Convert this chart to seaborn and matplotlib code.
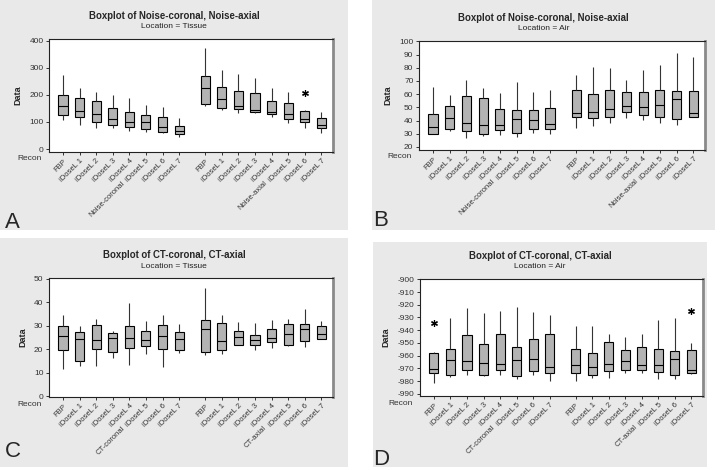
import numpy as np
import pandas as pd
import matplotlib.pyplot as plt
from matplotlib.patches import Rectangle
import seaborn as sns

recons = ["FBP", "iDoseL 1", "iDoseL 2", "iDoseL 3", "iDoseL 4", "iDoseL 5", "iDoseL 6", "iDoseL 7"]

# five-number summaries: min, Q1, median, Q3, max
noise_tissue_coronal = [[107, 125, 159, 200, 274], [89, 117, 141, 189, 227], [77, 100, 130, 178, 212],
                        [77, 89, 111, 153, 200], [68, 81, 101, 138, 189], [64, 75, 99, 126, 163],
                        [60, 64, 83, 119, 154], [43, 54, 68, 86, 115]]
noise_tissue_axial = [[160, 165, 225, 269, 373], [143, 151, 185, 230, 290], [132, 146, 159, 214, 278],
                      [132, 135, 143, 207, 262], [117, 130, 137, 177, 226], [95, 111, 131, 170, 211],
                      [77, 100, 111, 141, 143], [59, 79, 89, 115, 138]]
noise_air_coronal = [[29.5, 30, 35, 45.3, 65.6], [32.3, 33.3, 41.8, 51.3, 59.6], [26.5, 31.8, 37.8, 58.8, 71],
                     [28.3, 29.8, 36.3, 56.8, 64.6], [28.8, 32.5, 36.3, 49, 60.9], [27.8, 30.8, 41, 48.3, 68.9],
                     [30.8, 33.3, 40.3, 48.3, 62], [29.5, 33.5, 37.3, 49.8, 62.9]]
noise_air_axial = [[34.5, 42.6, 46, 63.4, 74.9], [36, 41.6, 46.3, 60.1, 80.9], [37.8, 42.6, 49.1, 62.9, 80.2],
                   [42.3, 46.8, 50.8, 61.9, 71], [40.3, 44.3, 50, 61.9, 78.4], [38.3, 42.6, 52, 62.9, 82.2],
                   [36.8, 41, 56.1, 62.1, 91.4], [42.6, 42.8, 46, 62.1, 87.9]]
ct_tissue_coronal = [[11.5, 19.6, 25.6, 30.1, 34.5], [12.9, 15.2, 24.3, 27.4, 30.1], [13.1, 20.3, 24, 30.5, 32.8],
                     [16.2, 18.8, 24.9, 27.1, 28], [13.5, 20.5, 24.9, 30, 39.8], [18, 21.4, 24, 28, 32],
                     [12.5, 20.3, 25.6, 30.3, 34.5], [18.3, 19.6, 24.6, 27.3, 31]]
ct_tissue_axial = [[17.5, 19, 28.6, 32.4, 46.2], [18.2, 19.7, 23.6, 31.3, 34.5], [21.9, 21.9, 25.3, 27.8, 31.8],
                   [19.7, 21.7, 23.9, 26, 31.3], [20.5, 23, 24.7, 28.6, 32.4], [21.4, 21.7, 26.7, 30.7, 33],
                   [20.9, 23.6, 28.6, 30.7, 37.4], [24.3, 24.6, 26.7, 30, 32.2]]
ct_air_coronal = [[-981.9, -974, -970.9, -957.7, -957.5], [-977.2, -975.6, -963.8, -954.6, -930.4],
                  [-975.3, -971.4, -964.6, -943.6, -922.6], [-976.1, -975.6, -966.1, -951.2, -926.8],
                  [-975.3, -971.4, -966.9, -943, -925.2], [-978.5, -976.4, -963.8, -953.3, -921.8],
                  [-975.3, -971.9, -963, -946.7, -925.7], [-979.8, -973.8, -969.3, -943, -928.3]]
ct_air_axial = [[-980.3, -973.8, -967.7, -955.1, -936.7], [-977.7, -975.1, -969.3, -957.7, -936.7],
                [-978, -972.4, -966.9, -949.6, -943.3], [-973.5, -971.7, -964.6, -955.6, -945.4],
                [-973.8, -971.7, -967.5, -953.3, -943], [-978.5, -973, -967.5, -954.6, -932.3],
                [-978.2, -975.6, -962.7, -956.7, -930.4], [-974.8, -973.5, -971.7, -955.6, -950.4]]

# outliers: (group, recon index, value)
noise_tissue_outliers = [("axial", 6, 207)]
ct_air_outliers = [("coronal", 0, -934), ("axial", 7, -925)]

sns.set_theme(style="ticks")
plt.rcParams["font.family"] = ["Liberation Sans", "DejaVu Sans"]

AXIAL_SHIFT = 8.57
BOX_GRAY = "#b3b3b3"
PANEL_GRAY = "#e9e9e9"


def draw_panel(ax, coronal, axial, outliers, names, title, subtitle, ylim, yticks, panel_box):
    rows = []
    for shift, group in [(0, coronal), (AXIAL_SHIFT, axial)]:
        for i, five in enumerate(group):
            for v in five:
                rows.append({"pos": shift + i, "value": v})
    df = pd.DataFrame(rows)
    sns.boxplot(data=df, x="pos", y="value", native_scale=True, whis=(0, 100), width=0.55,
                color=BOX_GRAY, linecolor="black", linewidth=0.8, fliersize=0, ax=ax,
                capprops={"visible": False}, whiskerprops={"color": "#333"})
    if outliers:
        out = pd.DataFrame([{"pos": (AXIAL_SHIFT if g == "axial" else 0) + i, "value": v}
                            for g, i, v in outliers])
        sns.scatterplot(data=out, x="pos", y="value", marker=(6, 2, 0), s=18, color="black",
                        linewidth=0.9, ax=ax, legend=False)

    pos = list(range(8)) + [AXIAL_SHIFT + i for i in range(8)]
    ax.set_xticks(pos)
    ax.set_xticklabels(recons * 2, rotation=45, ha="right", rotation_mode="anchor", fontsize=5.5, color="#333")
    ax.set_xlim(-0.84, 16.27)
    ax.set_ylim(*ylim)
    ax.set_yticks(yticks)
    ax.set_yticklabels([str(t) for t in yticks], fontsize=6, color="#333")
    ax.tick_params(axis="both", length=2.5, width=0.7, pad=1.5, color="#333")
    ax.set_xlabel("")
    ax.set_ylabel("Data", fontsize=6.5, fontweight="bold", labelpad=5)
    for s in ["left", "bottom", "top"]:
        ax.spines[s].set_visible(True)
        ax.spines[s].set_color("#222")
        ax.spines[s].set_linewidth(0.8)
    ax.spines["right"].set_visible(True)
    ax.spines["right"].set_color("#8a8a8a")
    ax.spines["right"].set_linewidth(2)

    ax.text(-0.025, -0.06, "Recon", transform=ax.transAxes, ha="right", va="center", fontsize=6, color="#333")
    for center, name in [(3.5, names[0]), (AXIAL_SHIFT + 3.5, names[1])]:
        ax.annotate(name, xy=(center, 0), xycoords=("data", "axes fraction"), xytext=(0, -20),
                    textcoords="offset points", rotation=45, ha="right", va="top",
                    rotation_mode="anchor", fontsize=5.5, color="#333")

    x0, y0, w, h = panel_box
    fig.text(x0 + w / 2, ax.get_position().y1 + 23 / 470, title, ha="center", va="center",
             fontsize=6.9, fontweight="bold")
    fig.text(x0 + w / 2, ax.get_position().y1 + 12 / 470, subtitle, ha="center", va="center",
             fontsize=6, color="#222")


fig = plt.figure(figsize=(7.2, 4.7), dpi=100)
fig.patch.set_facecolor("white")

# panel background regions (pixels -> figure fraction)
boxes = {"A": (0, 0, 348, 230), "B": (372, 0, 343, 230), "C": (0, 238, 348, 229), "D": (373, 242, 334, 225)}
fb = {}
for k, (x, y, w, h) in boxes.items():
    fb[k] = (x / 720, 1 - (y + h) / 470, w / 720, h / 470)
    fig.patches.append(Rectangle((fb[k][0], fb[k][1]), fb[k][2], fb[k][3], transform=fig.transFigure,
                                 facecolor=PANEL_GRAY, edgecolor="none", zorder=-5))

axA = fig.add_axes([49 / 720, 1 - 152 / 470, 284 / 720, 113 / 470])
axB = fig.add_axes([419 / 720, 1 - 150 / 470, 286 / 720, 109 / 470])
axC = fig.add_axes([49 / 720, 1 - 397 / 470, 284 / 720, 119 / 470])
axD = fig.add_axes([420 / 720, 1 - 396 / 470, 283 / 720, 117 / 470])
for ax in [axA, axB, axC, axD]:
    ax.set_facecolor("white")

draw_panel(axA, noise_tissue_coronal, noise_tissue_axial, noise_tissue_outliers,
           ["Noise-coronal", "Noise-axial"], "Boxplot of Noise-coronal, Noise-axial", "Location = Tissue",
           (-11, 406), [0, 100, 200, 300, 400], fb["A"])
draw_panel(axB, noise_air_coronal, noise_air_axial, [],
           ["Noise-coronal", "Noise-axial"], "Boxplot of Noise-coronal, Noise-axial", "Location = Air",
           (17.7, 100.3), [20, 30, 40, 50, 60, 70, 80, 90, 100], fb["B"])
draw_panel(axC, ct_tissue_coronal, ct_tissue_axial, [],
           ["CT-coronal", "CT-axial"], "Boxplot of CT-coronal, CT-axial", "Location = Tissue",
           (-0.3, 50.4), [0, 10, 20, 30, 40, 50], fb["C"])
draw_panel(axD, ct_air_coronal, ct_air_axial, ct_air_outliers,
           ["CT-coronal", "CT-axial"], "Boxplot of CT-coronal, CT-axial", "Location = Air",
           (-991.8, -899.7), list(range(-900, -991, -10))[::-1], fb["D"])

for letter, x, y in [("A", 5, 228), ("B", 373, 226), ("C", 5, 457), ("D", 373, 465)]:
    fig.text(x / 720, 1 - y / 470, letter, ha="left", va="baseline", fontsize=16)

fig.savefig("out.png", dpi=100)
